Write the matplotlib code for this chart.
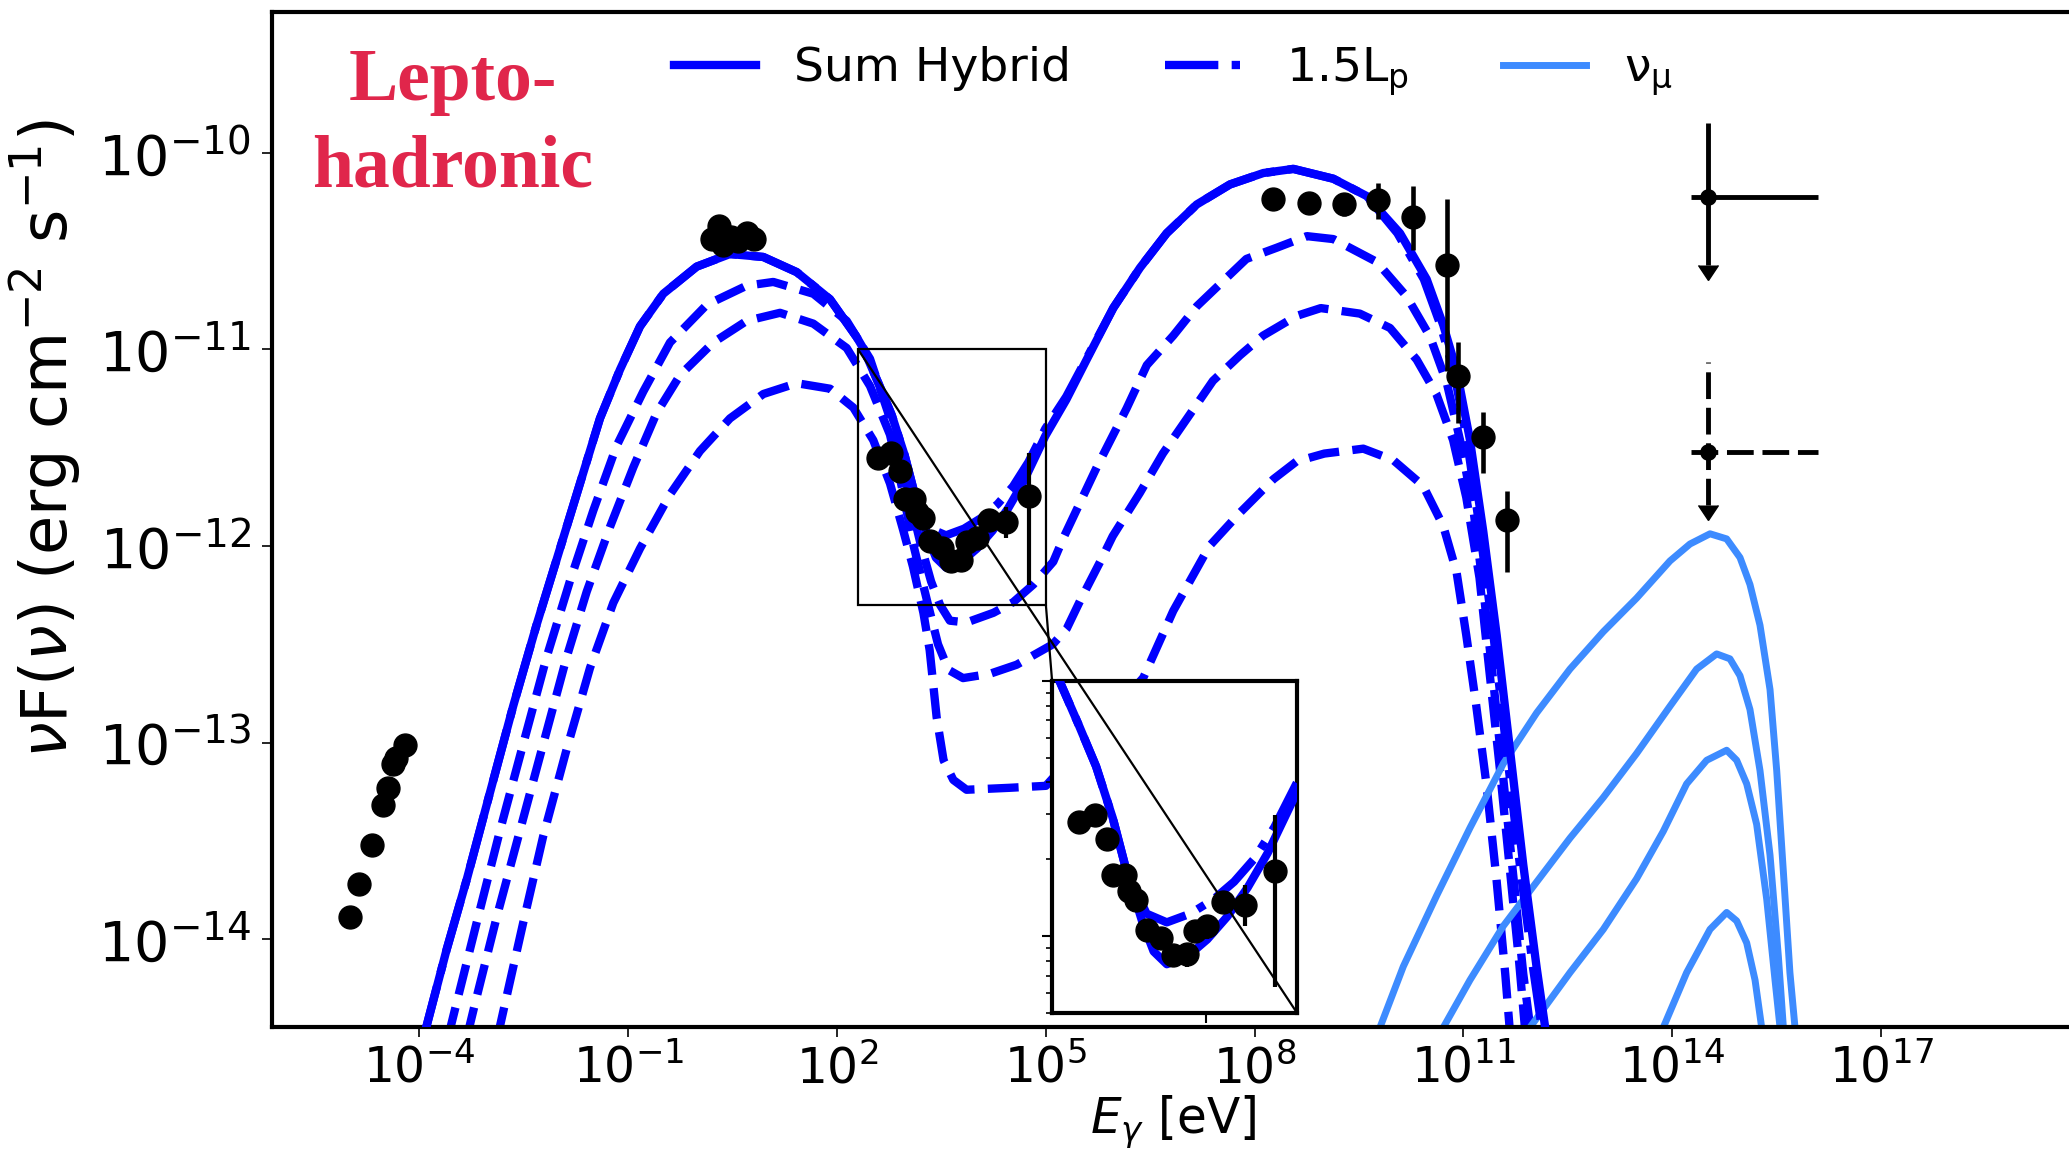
import numpy as np
import matplotlib
matplotlib.use('Agg')
import matplotlib.pyplot as plt
from matplotlib.patches import Rectangle, ConnectionPatch
from matplotlib.ticker import NullLocator, NullFormatter

plt.rcParams['font.family'] = ['DejaVu Sans']

# all values are log10(E / eV) and log10(nuFnu / erg cm^-2 s^-1)

# Sum Hybrid (solid)
sum_lx = [-3.94, -3.897, -3.61, -3.32, -2.987, -2.652, -2.316, -1.981, -1.694, -1.407,
          -1.119, -0.832, -0.497, -0.017, 0.461, 0.94, 1.42, 1.898, 2.282, 2.378,
          2.60, 2.786, 2.971, 3.12, 3.30, 3.42, 3.565, 3.787, 4.01, 4.232,
          4.455, 4.677, 4.992, 5.293, 5.586, 5.969, 6.352, 6.736, 7.167, 7.645,
          8.124, 8.555, 9.13, 9.609, 10.088, 10.471, 10.71, 10.903, 11.093, 11.285,
          11.477, 11.668, 11.859, 12.052, 12.17, 12.19]
sum_ly = [-14.5, -14.44, -14.053, -13.695, -13.254, -12.812, -12.399, -12.013, -11.682, -11.351,
          -11.103, -10.883, -10.717, -10.579, -10.515, -10.53, -10.607, -10.745, -10.938, -10.996,
          -11.177, -11.335, -11.539, -11.743, -11.95, -12.06, -12.11, -12.081, -12.013, -11.923,
          -11.81, -11.674, -11.44, -11.256, -11.052, -10.789, -10.585, -10.409, -10.263, -10.161,
          -10.103, -10.082, -10.132, -10.22, -10.409, -10.643, -10.877, -11.11, -11.461, -11.928,
          -12.454, -13.038, -13.622, -14.147, -14.44, -14.5]

# 1.5 Lp (dash-dot), lies on the sum except in the X-ray dip
lp_lx = [-3.94, -3.897, -3.61, -3.32, -2.987, -2.652, -2.316, -1.981, -1.694, -1.407,
         -1.119, -0.832, -0.497, -0.017, 0.461, 0.94, 1.42, 1.898, 2.282, 2.378,
         2.60, 2.786, 2.971, 3.12, 3.342, 3.565, 3.824, 4.083, 4.306, 4.528,
         4.75, 4.992, 5.293, 5.586, 5.969, 6.352, 6.736, 7.167, 7.645, 8.124,
         8.555, 9.13, 9.609, 10.05, 10.43, 10.67, 10.86, 11.05, 11.24, 11.43,
         11.62, 11.81, 12.0, 12.12, 12.14]
lp_ly = [-14.5, -14.44, -14.053, -13.695, -13.254, -12.812, -12.399, -12.013, -11.682, -11.351,
         -11.103, -10.883, -10.717, -10.579, -10.515, -10.53, -10.607, -10.745, -10.938, -10.996,
         -11.177, -11.335, -11.539, -11.743, -11.912, -11.946, -11.912, -11.855, -11.787, -11.697,
         -11.573, -11.403, -11.24, -11.045, -10.789, -10.585, -10.409, -10.263, -10.161, -10.103,
         -10.082, -10.132, -10.22, -10.409, -10.643, -10.877, -11.11, -11.461, -11.928, -12.454,
         -13.038, -13.622, -14.147, -14.44, -14.5]

# other dashed models
d1_lx = [-3.59, -3.49, -3.178, -2.843, -2.509, -2.173, -1.838, -1.503, -1.167, -0.784,
         -0.401, 0.127, 0.701, 1.083, 1.658, 2.138, 2.473, 2.76, 2.95, 3.05,
         3.20, 3.35, 3.48, 3.62, 3.86, 4.245, 4.53, 4.82, 5.106, 5.25,
         5.49, 5.73, 6.16, 6.45, 6.83, 7.17, 7.88, 8.316, 8.75, 9.13,
         9.753, 10.184, 10.519, 10.759, 10.95, 11.141, 11.285, 11.428, 11.572, 11.716,
         11.859, 11.955, 11.97]
d1_ly = [-14.5, -14.357, -13.915, -13.447, -13.006, -12.565, -12.178, -11.82, -11.49, -11.214,
         -10.965, -10.773, -10.676, -10.657, -10.717, -10.855, -11.048, -11.351, -11.60, -11.77,
         -11.99, -12.18, -12.30, -12.38, -12.389, -12.34, -12.286, -12.196, -12.08, -11.96,
         -11.78, -11.60, -11.30, -11.08, -10.93, -10.78, -10.54, -10.483, -10.424, -10.439,
         -10.555, -10.731, -10.935, -11.169, -11.461, -11.811, -12.22, -12.688, -13.184, -13.68,
         -14.177, -14.44, -14.5]

d2_lx = [-3.32, -3.203, -2.891, -2.556, -2.221, -1.885, -1.598, -1.263, -0.928, -0.592,
         -0.257, 0.221, 0.701, 1.18, 1.658, 2.138, 2.473, 2.76, 2.93, 3.10,
         3.29, 3.45, 3.60, 3.81, 4.197, 4.58, 5.10, 5.30, 5.49, 5.78,
         5.96, 6.35, 6.68, 7.07, 7.40, 7.79, 8.12, 8.6, 8.95, 9.51,
         9.944, 10.327, 10.61, 10.85, 11.04, 11.23, 11.37, 11.52, 11.66, 11.80,
         11.88, 11.90]
d2_ly = [-14.5, -14.329, -13.888, -13.447, -13.006, -12.565, -12.233, -11.903, -11.6, -11.323,
         -11.131, -10.965, -10.855, -10.814, -10.869, -10.993, -11.186, -11.434, -11.70, -12.0,
         -12.275, -12.50, -12.63, -12.672, -12.65, -12.604, -12.50, -12.42, -12.28, -12.08,
         -11.95, -11.73, -11.53, -11.33, -11.16, -11.03, -10.93, -10.83, -10.79, -10.818,
         -10.891, -11.052, -11.227, -11.461, -11.753, -12.162, -12.629, -13.125, -13.622, -14.118,
         -14.44, -14.5]

d3_lx = [-2.88, -2.772, -2.509, -2.221, -1.885, -1.55, -1.215, -0.832, -0.401, 0.03,
         0.461, 0.94, 1.42, 1.898, 2.233, 2.52, 2.76, 2.95, 3.09, 3.24,
         3.33, 3.43, 3.53, 3.67, 3.86, 4.48, 5.0, 6.40, 6.83, 7.35,
         7.79, 8.27, 8.60, 9.0, 9.56, 9.99, 10.42, 10.71, 10.90, 11.04,
         11.18, 11.33, 11.47, 11.60, 11.66, 11.68]
d3_ly = [-14.5, -14.329, -13.915, -13.474, -13.033, -12.62, -12.289, -12.013, -11.738, -11.517,
         -11.351, -11.227, -11.172, -11.2, -11.296, -11.462, -11.682, -11.92, -12.105, -12.34,
         -12.53, -12.87, -13.09, -13.19, -13.24, -13.23, -13.22, -12.67, -12.33, -12.0,
         -11.83, -11.66, -11.57, -11.53, -11.505, -11.563, -11.694, -11.899, -12.132, -12.454,
         -12.804, -13.213, -13.68, -14.177, -14.44, -14.5]

# muon neutrino curves
nu1_lx = [9.76, 9.80, 10.135, 10.615, 11.093, 11.572, 12.051, 12.53, 13.009, 13.488,
          13.967, 14.254, 14.542, 14.781, 14.973, 15.116, 15.26, 15.404, 15.5, 15.596,
          15.69, 15.763, 15.77]
nu1_ly = [-14.5, -14.449, -14.139, -13.778, -13.434, -13.107, -12.849, -12.626, -12.436, -12.265,
          -12.076, -11.99, -11.938, -11.964, -12.059, -12.196, -12.403, -12.73, -13.142, -13.658,
          -14.17, -14.449, -14.5]
nu2_lx = [10.68, 10.71, 11.093, 11.572, 12.051, 12.53, 13.009, 13.488, 13.967, 14.35,
          14.637, 14.828, 14.973, 15.116, 15.26, 15.404, 15.524, 15.596, 15.60]
nu2_ly = [-14.5, -14.449, -14.208, -13.933, -13.709, -13.486, -13.279, -13.055, -12.815, -12.626,
          -12.549, -12.574, -12.66, -12.832, -13.142, -13.572, -14.088, -14.449, -14.5]
nu3_lx = [11.93, 11.955, 12.53, 13.009, 13.488, 13.871, 14.206, 14.494, 14.781, 14.925,
          15.069, 15.212, 15.356, 15.476, 15.548, 15.555]
nu3_ly = [-14.5, -14.449, -14.17, -13.95, -13.692, -13.451, -13.21, -13.09, -13.039, -13.09,
          -13.21, -13.416, -13.795, -14.208, -14.449, -14.5]
nu4_lx = [13.85, 13.871, 14.206, 14.542, 14.781, 14.925, 15.069, 15.189, 15.284, 15.29]
nu4_ly = [-14.5, -14.449, -14.17, -13.95, -13.864, -13.907, -14.019, -14.208, -14.449, -14.5]

# data points
radio_lx = [-5.004, -4.87, -4.68, -4.53, -4.45, -4.38, -4.34, -4.21]
radio_ly = [-13.886, -13.718, -13.523, -13.32, -13.23, -13.11, -13.08, -13.01]

opt_lx = [0.20, 0.30, 0.36, 0.47, 0.58, 0.70, 0.80]
opt_ly = [-10.44, -10.37, -10.47, -10.43, -10.45, -10.41, -10.44]

xray_lx = [2.593, 2.778, 2.904, 2.971, 3.101, 3.149, 3.231, 3.342, 3.501, 3.638,
           3.787, 3.872, 4.010, 4.188, 4.428, 4.758]
xray_ly = [-11.553, -11.526, -11.618, -11.762, -11.762, -11.825, -11.860, -11.975, -12.008, -12.075,
           -12.071, -11.980, -11.961, -11.866, -11.878, -11.746]
xray_lo = [-11.553, -11.526, -11.618, -11.762, -11.762, -11.825, -11.860, -11.975, -12.008, -12.075,
           -12.12, -11.980, -12.01, -11.866, -11.96, -12.20]
xray_hi = [-11.553, -11.526, -11.618, -11.762, -11.762, -11.825, -11.860, -11.975, -12.008, -12.075,
           -12.071, -11.980, -11.961, -11.866, -11.80, -11.525]

fermi_lx = [8.267, 8.785, 9.288, 9.776, 10.27, 10.76, 10.926, 11.285, 11.63]
fermi_ly = [-10.234, -10.255, -10.258, -10.24, -10.328, -10.57, -11.134, -11.446, -11.87]
fermi_lo = [-10.234, -10.255, -10.32, -10.337, -10.497, -11.11, -11.373, -11.63, -12.132]
fermi_hi = [-10.234, -10.255, -10.258, -10.153, -10.17, -10.234, -10.964, -11.32, -11.718]

# neutrino upper limits: centre, x range, y range, arrow base
ul_lx = [14.516, 14.516]
ul_ly = [-10.223, -11.523]
ul_xlo = [14.27, 14.27]
ul_xhi = [16.09, 16.09]
ul_ytop = [-9.847, -11.063]
ul_ybot = [-10.571, -11.79]


def p(v):
    return np.power(10.0, np.asarray(v, dtype=float))


blue = '#0000ff'
nucol = '#3d8bff'
lw_main = 6

fig = plt.figure(figsize=(20.69, 11.52), dpi=100)
ax = fig.add_axes([0.1313, 0.1088, 0.8788, 0.8806])
ax.set_xscale('log')
ax.set_yscale('log')


def draw_models(a, lw=lw_main):
    h1, = a.plot(p(sum_lx), p(sum_ly), color=blue, lw=lw, zorder=3)
    h2, = a.plot(p(lp_lx), p(lp_ly), color=blue, lw=lw, ls='-.', zorder=3)
    return h1, h2


h_sum, h_lp = draw_models(ax)
for lx, ly in [(d1_lx, d1_ly), (d2_lx, d2_ly), (d3_lx, d3_ly)]:
    ax.plot(p(lx), p(ly), color=blue, lw=lw_main, ls='--', zorder=2)

h_nu = None
for lx, ly in [(nu1_lx, nu1_ly), (nu2_lx, nu2_ly), (nu3_lx, nu3_ly), (nu4_lx, nu4_ly)]:
    h, = ax.plot(p(lx), p(ly), color=nucol, lw=5, zorder=2)
    if h_nu is None:
        h_nu = h


def draw_data(a, ms=16.5):
    a.plot(p(radio_lx), p(radio_ly), 'o', color='k', ms=ms, zorder=5)
    a.plot(p(opt_lx), p(opt_ly), 'o', color='k', ms=ms, zorder=5)
    y = p(xray_ly)
    a.errorbar(p(xray_lx), y, yerr=[y - p(xray_lo), p(xray_hi) - y], fmt='o', color='k',
               ms=ms, elinewidth=3, zorder=5)


draw_data(ax)
fy = p(fermi_ly)
ax.errorbar(p(fermi_lx), fy, yerr=[fy - p(fermi_lo), p(fermi_hi) - fy], fmt='o', color='k',
            ms=16.5, elinewidth=3.3, zorder=5)

for i in range(2):
    x = p(ul_lx[i])
    y = p(ul_ly[i])
    eb = ax.errorbar([x], [y], xerr=[[x - p(ul_xlo[i])], [p(ul_xhi[i]) - x]],
                     yerr=[[y - p(ul_ybot[i])], [p(ul_ytop[i]) - y]],
                     fmt='o', color='k', ms=11, elinewidth=3.5, zorder=5)
    if i == 1:
        for lc in eb[2]:
            lc.set_linestyle((0, (5.5, 1.8)))
    ax.plot([x], [p(ul_ybot[i])], marker=11, color='k', ms=14, zorder=5)

ax.set_xlim(p(-6.124), 1e20)
ax.set_ylim(p(-14.445), p(-9.285))
ax.set_xticks([1e-4, 1e-1, 1e2, 1e5, 1e8, 1e11, 1e14, 1e17])
ax.set_yticks([1e-14, 1e-13, 1e-12, 1e-11, 1e-10])
ax.xaxis.set_minor_locator(NullLocator())
ax.yaxis.set_minor_locator(NullLocator())
ax.tick_params(axis='both', which='major', length=7, width=1.2)
ax.tick_params(axis='x', labelsize=35, pad=6)
ax.tick_params(axis='y', labelsize=40, pad=8)
for s in ax.spines.values():
    s.set_linewidth(3)

ax.set_xlabel(r'$E_\gamma$ [eV]', fontsize=35, va='top')
ax.xaxis.set_label_coords(0.4958, -0.066)
ax.set_ylabel(r'$\nu$F($\nu$) (erg cm$^{-2}$ s$^{-1}$)', fontsize=46)
ax.yaxis.set_label_coords(-0.104, 0.58)

ax.legend([h_sum, h_lp, h_nu], ['Sum Hybrid', r'1.5L$_{\rm p}$', r'ν$_\mathrm{μ}$'],
          loc='center', bbox_to_anchor=(0.567, 0.938), bbox_transform=fig.transFigure,
          ncol=3, frameon=False, fontsize=34, handlelength=1.75, columnspacing=2.0)

fig.text(0.2187, 0.9132, 'Lepto-', ha='center', va='baseline', fontsize=53,
         family='Liberation Serif', weight='bold', color='#e0264b')
fig.text(0.2187, 0.8377, 'hadronic', ha='center', va='baseline', fontsize=53,
         family='Liberation Serif', weight='bold', color='#e0264b')

# zoomed inset of the X-ray dip
x0, x1, y0, y1 = 2e2, 1e5, 5e-13, 1e-11
ax.add_patch(Rectangle((x0, y0), x1 - x0, y1 - y0, fill=False, ec='k', lw=1.6, zorder=6))

axins = fig.add_axes([0.5085, 0.1207, 0.1184, 0.2882])
axins.set_xscale('log')
axins.set_yscale('log')
draw_models(axins)
draw_data(axins)
axins.set_xlim(x0, x1)
axins.set_ylim(y0, y1)
axins.set_xticks([1e4])
axins.xaxis.set_minor_locator(NullLocator())
axins.xaxis.set_major_formatter(NullFormatter())
axins.yaxis.set_major_formatter(NullFormatter())
axins.yaxis.set_minor_formatter(NullFormatter())
axins.tick_params(which='major', length=7, width=1.5)
axins.tick_params(which='minor', length=4.5, width=1.2)
for s in axins.spines.values():
    s.set_linewidth(3)

fig.add_artist(ConnectionPatch(xyA=(x0, y1), coordsA=ax.transData, xyB=(1, 0),
                               coordsB=axins.transAxes, color='k', lw=1.6))
fig.add_artist(ConnectionPatch(xyA=(x1, y0), coordsA=ax.transData, xyB=(0, 1),
                               coordsB=axins.transAxes, color='k', lw=1.6))

fig.savefig('out.png', dpi=100)
